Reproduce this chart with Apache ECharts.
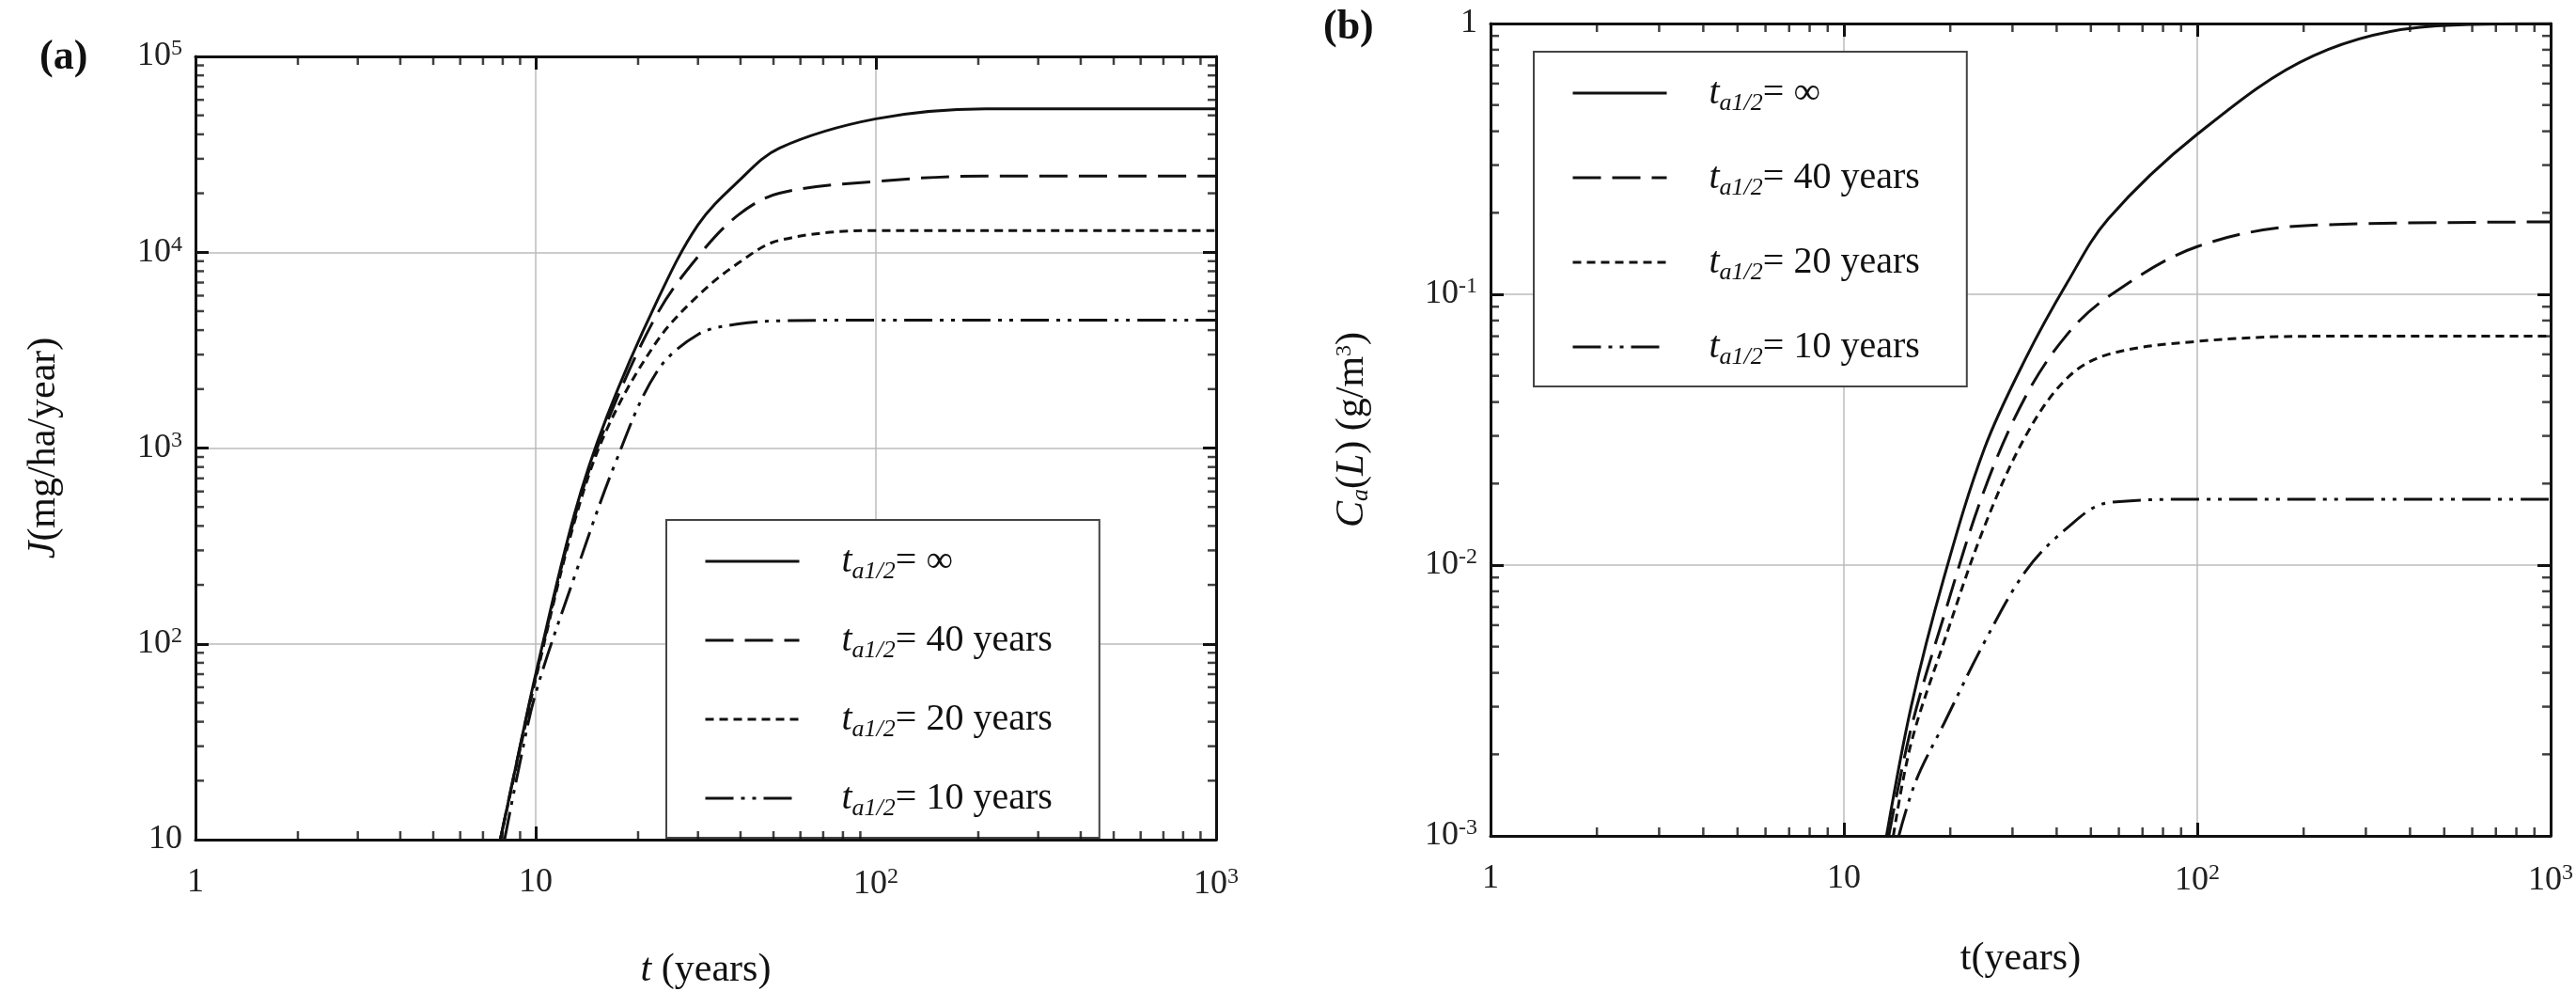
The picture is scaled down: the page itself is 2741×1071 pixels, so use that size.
<!DOCTYPE html>
<html>
<head>
<meta charset="utf-8">
<script src="https://cdn.jsdelivr.net/npm/echarts@6/dist/echarts.min.js"></script>
<style>html,body{margin:0;padding:0;background:#fff}#main{width:2741px;height:1071px}</style>
</head>
<body>
<div id="main"></div>
<script>
// panel (a): J (mg/ha/year)
var tA = [7.87, 9, 10, 13, 16.2, 22.7, 30, 39.4, 52, 100, 210, 1000];
var jInf = [10, 30, 70, 460, 1450, 5600, 13800, 23000, 34000, 48000, 54000, 54000];
var j40 = [10, 30, 68, 440, 1350, 4800, 9500, 15500, 20000, 23000, 24500, 24500];
var j20 = [10, 29, 66, 420, 1250, 3500, 6000, 8800, 11500, 12900, 12900, 12900];
var tA10 = [8.1, 9, 10, 13, 17.2, 22.7, 30, 39.4, 52, 100, 210, 1000];
var j10 = [10, 25, 56, 220, 850, 2450, 3800, 4300, 4460, 4500, 4500, 4500];

// panel (b): Ca(L) (g/m3)
var tBInf = [13.2, 15.5, 19.2, 25, 32.7, 42.8, 56, 100, 213, 475, 1000];
var cInf = [0.001, 0.003, 0.009, 0.027, 0.058, 0.11, 0.19, 0.39, 0.76, 0.98, 1.0];
var tB40 = [13.4, 15.5, 19.2, 25, 32.7, 42.8, 56, 100, 213, 1000];
var c40 = [0.001, 0.0025, 0.0065, 0.019, 0.042, 0.071, 0.098, 0.15, 0.18, 0.185];
var tB20 = [13.8, 15.5, 19.2, 25, 32.7, 42.8, 56, 100, 213, 1000];
var c20 = [0.001, 0.0022, 0.0052, 0.0139, 0.03, 0.049, 0.06, 0.067, 0.07, 0.07];
var tB10 = [14.3, 16, 19.2, 25, 32.7, 42.8, 56, 100, 213, 1000];
var c10 = [0.001, 0.0016, 0.0026, 0.0052, 0.0095, 0.0137, 0.017, 0.0175, 0.0175, 0.0175];

var legendNames = ['∞', '40 years', '20 years', '10 years'];
var xMinor = [2,3,4,5,6,7,8,9,20,30,40,50,60,70,80,90,200,300,400,500,600,700,800,900];
var yMinorA = [20,30,40,50,60,70,80,90,200,300,400,500,600,700,800,900,2000,3000,4000,5000,6000,7000,8000,9000,20000,30000,40000,50000,60000,70000,80000,90000];
var yMinorB = [0.002,0.003,0.004,0.005,0.006,0.007,0.008,0.009,0.02,0.03,0.04,0.05,0.06,0.07,0.08,0.09,0.2,0.3,0.4,0.5,0.6,0.7,0.8,0.9];

var font = 'Liberation Serif';
var styles = [
    {type: 'solid'},
    {type: [30, 12]},
    {type: [9, 6]},
    {type: [30, 8, 4, 8, 4, 8]}
];

function pairs(xs, ys) {
    return xs.map(function (x, i) { return [x, ys[i]]; });
}

function pow10Label(v) {
    var e = Math.round(Math.log10(v));
    if (e === 0) return '1';
    if (e === 1) return '10';
    return '10{s|' + e + '}';
}

var labelRich = {s: {fontSize: 24, fontFamily: font, color: '#222', verticalAlign: 'top', padding: [0, 0, 16, 0]}};

function xAxes() {
    return [{
        type: 'log', min: 1, max: 1000, logBase: 10,
        axisLine: {lineStyle: {color: '#111', width: 3}},
        axisTick: {inside: true, length: 14, lineStyle: {color: '#111', width: 3}},
        splitLine: {show: true, lineStyle: {color: '#bbb', width: 1.5}},
        axisLabel: {formatter: pow10Label, fontFamily: font, fontSize: 36, color: '#222', margin: 28, rich: labelRich},
        nameLocation: 'middle', nameGap: 118
    }, {
        type: 'log', min: 1, max: 1000, position: 'top',
        axisLine: {lineStyle: {color: '#111', width: 3}},
        axisTick: {inside: true, length: 14, lineStyle: {color: '#111', width: 3}},
        axisLabel: {show: false}, splitLine: {show: false}
    }];
}

function yAxes(min, max) {
    return [{
        type: 'log', min: min, max: max,
        axisLine: {lineStyle: {color: '#111', width: 3}},
        axisTick: {inside: true, length: 14, lineStyle: {color: '#111', width: 3}},
        splitLine: {show: true, lineStyle: {color: '#bbb', width: 1.5}},
        axisLabel: {formatter: pow10Label, fontFamily: font, fontSize: 36, color: '#222', margin: 14, rich: labelRich},
        nameLocation: 'middle', nameRotate: 90
    }, {
        type: 'log', min: min, max: max, position: 'right',
        axisLine: {lineStyle: {color: '#111', width: 3}},
        axisTick: {inside: true, length: 14, lineStyle: {color: '#111', width: 3}},
        axisLabel: {show: false}, splitLine: {show: false}
    }];
}

// minor ticks at 2..9 of each decade: small bars sitting on the frame, pushed inward
function minorSeries(axisIdx, vals, dir, other, inward) {
    return {
        type: 'scatter', xAxisIndex: axisIdx, yAxisIndex: axisIdx, silent: true, z: 5, clip: false,
        symbol: 'rect',
        symbolSize: dir === 'x' ? [2.5, 9] : [9, 2.5],
        symbolOffset: dir === 'x' ? [0, inward * 4.5] : [inward * 4.5, 0],
        itemStyle: {color: '#111'},
        data: vals.map(function (v) { return dir === 'x' ? [v, other] : [other, v]; })
    };
}

function lineSeries(name, axisIdx, data, k) {
    return {
        name: name, type: 'line', smooth: 0.35, showSymbol: false, symbol: 'none',
        xAxisIndex: axisIdx, yAxisIndex: axisIdx, data: data,
        lineStyle: {color: '#111', width: 3, type: styles[k].type},
        itemStyle: {color: '#111'}
    };
}

function legendText(name) {
    var n = name.replace(/^[ab]/, '');
    return '{t|t}{sub|a1/2}{n|= ' + n + '}';
}

var legendRich = {
    t: {fontFamily: font, fontStyle: 'italic', fontSize: 40, color: '#111'},
    sub: {fontFamily: font, fontStyle: 'italic', fontSize: 26, color: '#111', padding: [22, 0, 0, 0]},
    n: {fontFamily: font, fontSize: 40, color: '#111'}
};

function legend(prefix, left, top, gap) {
    return {
        data: legendNames.map(function (n) { return prefix + n; }),
        orient: 'vertical', left: left, top: top,
        itemWidth: 100, itemHeight: 30, itemGap: gap, padding: [24, 50, 18, 40],
        itemStyle: {opacity: 0},
        lineStyle: {width: 3},
        borderColor: '#444', borderWidth: 2, backgroundColor: '#fff',
        formatter: legendText, selectedMode: false,
        textStyle: {rich: legendRich, padding: [0, 0, 0, 40]}
    };
}

var xa = xAxes(), xb = xAxes();
xa[0].name = '{i|t} (years)';
xa[0].nameTextStyle = {fontFamily: font, fontSize: 42, color: '#111', rich: {i: {fontFamily: font, fontStyle: 'italic', fontSize: 42, color: '#111'}}};
xb[0].name = 't(years)';
xb[0].nameGap = 110;
xb[0].nameTextStyle = {fontFamily: font, fontSize: 42, color: '#111'};

var ya = yAxes(10, 100000), yb = yAxes(0.001, 1);
ya[0].name = '{i|J}(mg/ha/year)';
ya[0].nameGap = 140;
ya[0].nameTextStyle = {fontFamily: font, fontSize: 42, color: '#111', rich: {i: {fontFamily: font, fontStyle: 'italic', fontSize: 42, color: '#111'}}};
yb[0].name = '{i|C}{s|a}({i|L}) (g/m{u|3})';
yb[0].nameGap = 125;
yb[0].nameTextStyle = {fontFamily: font, fontSize: 42, color: '#111', rich: {
    i: {fontFamily: font, fontStyle: 'italic', fontSize: 42, color: '#111'},
    s: {fontFamily: font, fontStyle: 'italic', fontSize: 26, color: '#111', padding: [18, 0, 0, 0]},
    u: {fontFamily: font, fontSize: 24, color: '#111', padding: [0, 0, 16, 0]}
}};

var myChart = echarts.init(document.getElementById('main'));
myChart.setOption({
    animation: false,
    backgroundColor: '#fff',
    graphic: [
        {type: 'text', left: 42, top: 40, style: {text: '(a)', font: 'bold 44px "Liberation Serif"', fill: '#111'}},
        {type: 'text', left: 1408, top: 8, style: {text: '(b)', font: 'bold 44px "Liberation Serif"', fill: '#111'}}
    ],
    grid: [
        {left: 208, top: 60, width: 1086, height: 833},
        {left: 1586, top: 25, width: 1131, height: 864}
    ],
    xAxis: [xa[0], xa[1], xb[0], xb[1]].map(function (a, i) { a.gridIndex = i < 2 ? 0 : 1; return a; }),
    yAxis: [ya[0], ya[1], yb[0], yb[1]].map(function (a, i) { a.gridIndex = i < 2 ? 0 : 1; return a; }),
    legend: [legend('a', 709, 553, 40), legend('b', 1632, 55, 46)],
    series: [
        lineSeries('a' + legendNames[0], 0, pairs(tA, jInf), 0),
        lineSeries('a' + legendNames[1], 0, pairs(tA, j40), 1),
        lineSeries('a' + legendNames[2], 0, pairs(tA, j20), 2),
        lineSeries('a' + legendNames[3], 0, pairs(tA10, j10), 3),
        lineSeries('b' + legendNames[0], 2, pairs(tBInf, cInf), 0),
        lineSeries('b' + legendNames[1], 2, pairs(tB40, c40), 1),
        lineSeries('b' + legendNames[2], 2, pairs(tB20, c20), 2),
        lineSeries('b' + legendNames[3], 2, pairs(tB10, c10), 3),
        minorSeries(0, xMinor, 'x', 10, -1),
        minorSeries(0, xMinor, 'x', 100000, 1),
        minorSeries(0, yMinorA, 'y', 1, 1),
        minorSeries(0, yMinorA, 'y', 1000, -1),
        minorSeries(2, xMinor, 'x', 0.001, -1),
        minorSeries(2, xMinor, 'x', 1, 1),
        minorSeries(2, yMinorB, 'y', 1, 1),
        minorSeries(2, yMinorB, 'y', 1000, -1)
    ]
});
</script>
</body>
</html>
